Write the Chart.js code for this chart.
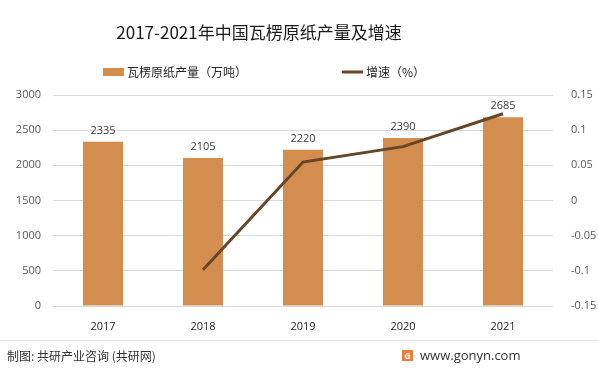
<!DOCTYPE html>
<html>
<head>
<meta charset="utf-8">
<script src="https://cdn.jsdelivr.net/npm/chart.js@4/dist/chart.umd.min.js"></script>
<style>
  html, body { margin: 0; padding: 0; background: #fff; }
  #wrap { width: 598px; height: 372px; position: relative; }
</style>
</head>
<body>
<div id="wrap"><canvas id="c" width="598" height="372"></canvas></div>
<script>
// 数据
const years = ["2017", "2018", "2019", "2020", "2021"];
const output = [2335, 2105, 2220, 2390, 2685];        // 瓦楞原纸产量（万吨）
const growth = [null, -0.0985, 0.0546, 0.0766, 0.1234]; // 增速
const leftTicks = [0, 500, 1000, 1500, 2000, 2500, 3000];
const rightTicks = [-0.15, -0.1, -0.05, 0, 0.05, 0.1, 0.15];

const BAR = "#D38D4F", LINE = "#654628", TXT = "#404040";
const FONT = "'Open Sans', 'Noto Sans CJK SC', sans-serif";
const CJK = "'Noto Sans CJK SC', sans-serif";

// 标题、图例、数据标签、页脚
const decor = {
  id: "decor",
  afterDatasetsDraw(chart) {
    const ctx = chart.ctx;
    ctx.save();
    // 标题
    ctx.fillStyle = "#1a1a1a";
    ctx.font = "17px " + CJK;
    ctx.textAlign = "center"; ctx.textBaseline = "middle";
    ctx.fillText("2017-2021年中国瓦楞原纸产量及增速", 259, 33);
    // 图例
    ctx.fillStyle = BAR;
    ctx.fillRect(103, 68, 21, 8);
    ctx.fillStyle = "#262626";
    ctx.font = "12px " + CJK;
    ctx.textAlign = "left";
    ctx.fillText("瓦楞原纸产量（万吨）", 127, 72);
    ctx.strokeStyle = LINE; ctx.lineWidth = 3;
    ctx.beginPath(); ctx.moveTo(342, 72); ctx.lineTo(363, 72); ctx.stroke();
    ctx.fillText("增速（%）", 366, 72);
    // 柱顶数值
    const meta = chart.getDatasetMeta(1);
    ctx.fillStyle = TXT;
    ctx.font = "11px " + FONT;
    ctx.textAlign = "center";
    meta.data.forEach((bar, i) => ctx.fillText(String(output[i]), bar.x, bar.y - 11));
    // 页脚
    ctx.strokeStyle = "#e6e6e6"; ctx.lineWidth = 1;
    ctx.beginPath(); ctx.moveTo(0, 340.5); ctx.lineTo(598, 340.5); ctx.stroke();
    ctx.fillStyle = "#333";
    ctx.font = "12px " + CJK;
    ctx.textAlign = "left";
    ctx.fillText("制图: 共研产业咨询 (共研网)", 7, 356);
    ctx.fillStyle = "#F07A3A";
    ctx.fillRect(402, 350, 11, 11);
    ctx.fillStyle = "#fff";
    ctx.font = "bold 9px " + FONT;
    ctx.textAlign = "center";
    ctx.fillText("G", 407.5, 356);
    ctx.fillStyle = "#333";
    ctx.font = "13px " + FONT;
    ctx.textAlign = "left";
    ctx.fillText("www.gonyn.com", 420, 356);
    ctx.restore();
  }
};

new Chart(document.getElementById("c"), {
  data: {
    labels: years,
    datasets: [
      { type: "line", label: "增速（%）", data: growth, yAxisID: "y2",
        borderColor: LINE, borderWidth: 3, pointRadius: 0, tension: 0, order: 0 },
      { type: "bar", label: "瓦楞原纸产量（万吨）", data: output, yAxisID: "y",
        backgroundColor: BAR, barPercentage: 0.4, categoryPercentage: 1, order: 1 }
    ]
  },
  options: {
    responsive: false, animation: false,
    layout: { padding: { top: 95, bottom: 36, left: 0, right: 0 } },
    plugins: { legend: { display: false }, tooltip: { enabled: false }, title: { display: false } },
    scales: {
      x: {
        grid: { display: false }, border: { display: false },
        ticks: { color: "#262626", font: { family: FONT, size: 11 }, padding: 6 },
        afterFit(s) { s.height = 30; }
      },
      y: {
        position: "left", min: 0, max: 3000,
        afterBuildTicks(s) { s.ticks = leftTicks.map(v => ({ value: v })); },
        grid: { color: "#d9d9d9", drawTicks: false }, border: { display: false },
        ticks: { color: "#595959", font: { family: FONT, size: 11 }, padding: 12,
          callback: v => String(v) },
        afterFit(s) { s.width = 53; }
      },
      y2: {
        position: "right", min: -0.15, max: 0.15,
        afterBuildTicks(s) { s.ticks = rightTicks.map(v => ({ value: v })); },
        grid: { display: false }, border: { display: false },
        ticks: { color: "#595959", font: { family: FONT, size: 11 }, padding: 10,
          callback: v => String(Math.round(v * 100) / 100) },
        afterFit(s) { s.width = 45; }
      }
    }
  },
  plugins: [decor]
});
</script>
</body>
</html>
